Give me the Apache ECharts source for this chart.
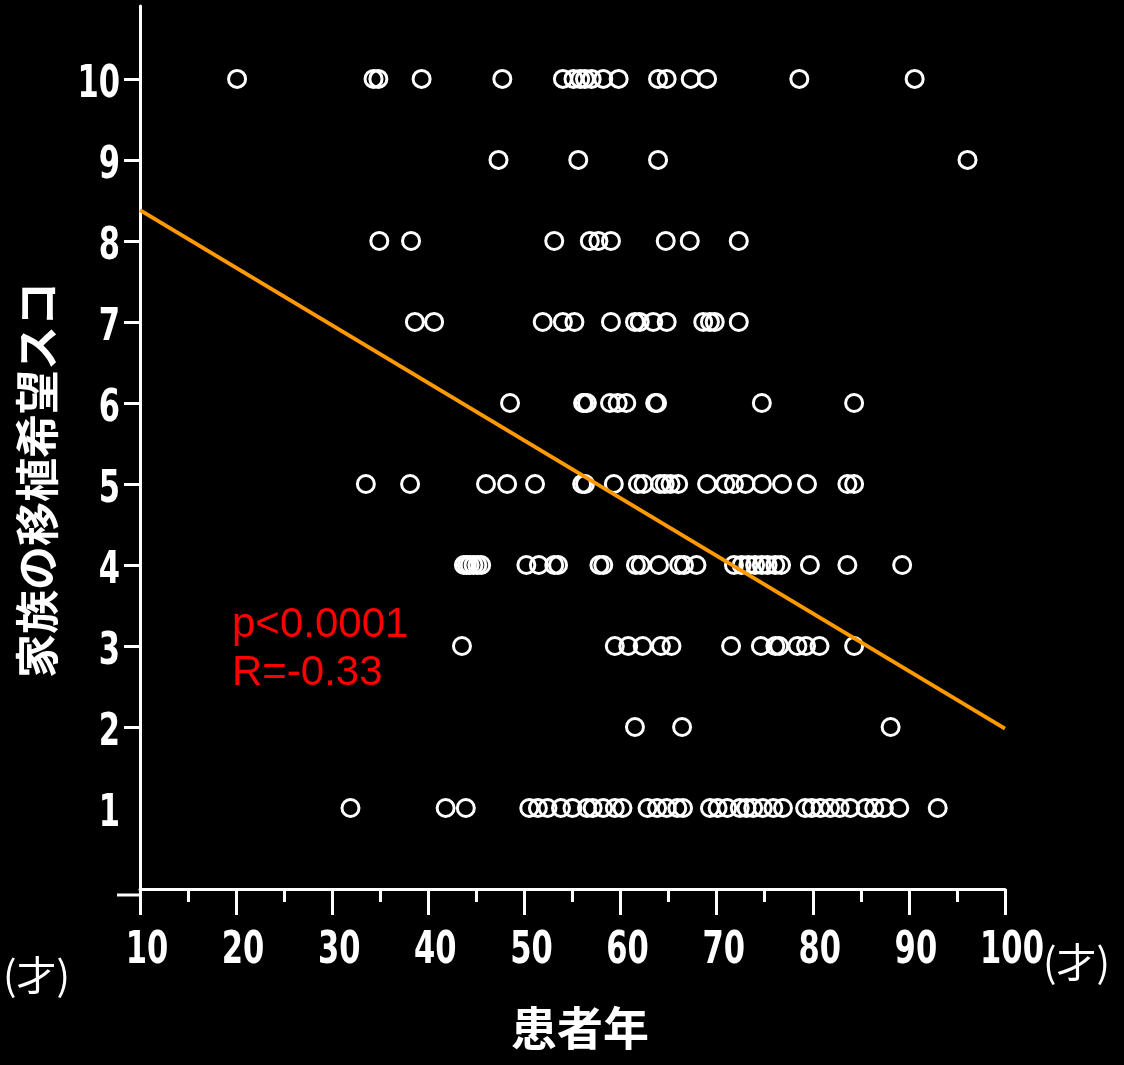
<!DOCTYPE html>
<html>
<head>
<meta charset="utf-8">
<script src="https://cdn.jsdelivr.net/npm/echarts@6/dist/echarts.min.js"></script>
<style>
  html, body { margin: 0; padding: 0; background: #000; }
  #main { width: 1124px; height: 1065px; }
</style>
</head>
<body>
<div id="main"></div>
<script>
// ages (years), one list per score row
var ages10 = [20.1, 34.3, 34.8, 39.3, 47.7, 54.0, 55.1, 55.8, 56.3, 57.0, 58.2, 59.8, 63.9, 64.8, 67.3, 69.0, 78.6, 90.6];
var ages9 = [47.3, 55.6, 63.9, 96.1];
var ages8 = [34.9, 38.2, 53.1, 56.8, 57.7, 59.0, 64.7, 67.2, 72.3];
var ages7 = [38.6, 40.6, 51.9, 54.0, 55.2, 59.0, 61.5, 62.0, 63.4, 64.8, 68.6, 69.3, 69.8, 72.3];
var ages6 = [48.5, 56.1, 56.2, 56.5, 58.9, 59.7, 60.6, 63.6, 63.8, 74.7, 84.3];
var ages5 = [33.5, 38.1, 46.0, 48.2, 51.1, 56.0, 56.3, 59.3, 61.8, 62.4, 64.1, 64.6, 65.2, 66.0, 69.0, 70.9, 71.8, 73.0, 74.7, 76.8, 79.4, 83.6, 84.3];
var ages4 = [43.7, 44.0, 44.3, 44.7, 45.1, 45.5, 50.2, 51.5, 53.1, 53.5, 57.8, 58.2, 61.6, 62.1, 64.0, 66.1, 66.6, 67.9, 71.8, 72.6, 73.3, 74.0, 74.7, 75.3, 76.1, 76.7, 79.7, 83.6, 89.3];
var ages3 = [43.5, 59.4, 60.8, 62.3, 64.2, 65.3, 71.5, 74.6, 76.1, 76.5, 78.4, 79.3, 80.7, 84.3];
var ages2 = [61.5, 66.4, 88.1];
var ages1 = [31.9, 41.8, 43.9, 50.5, 51.4, 52.4, 53.8, 55.0, 56.5, 57.1, 58.2, 59.4, 60.2, 62.8, 63.8, 64.8, 65.9, 66.5, 69.3, 70.1, 71.1, 72.4, 73.1, 73.8, 74.8, 75.9, 76.9, 79.2, 79.9, 80.8, 81.8, 82.8, 83.9, 85.5, 86.4, 87.4, 89.0, 93.0];

var scoreRows = [
  [10, ages10], [9, ages9], [8, ages8], [7, ages7], [6, ages6],
  [5, ages5], [4, ages4], [3, ages3], [2, ages2], [1, ages1]
];

// regression line end points [age, score]
var fitLine = [[10, 8.38], [100, 1.98]];

var xTicks = [10, 20, 30, 40, 50, 60, 70, 80, 90, 100];
var yLabels = [1, 2, 3, 4, 5, 6, 7, 8, 9, 10];
var yTicks = [2, 3, 4, 5, 6, 7, 8, 9, 10];

var points = [];
scoreRows.forEach(function (row) {
  row[1].forEach(function (a) { points.push([a, row[0]]); });
});

var digitFont = "bold 45px 'DejaVu Sans', sans-serif";
var cjk = "'Noto Sans CJK JP', sans-serif";
var yMin = -0.074;

var dom = document.getElementById('main');
var myChart = echarts.init(dom);

var option = {
  backgroundColor: '#000',
  animation: false,
  grid: {
    left: 140,
    right: 119,
    top: 6,
    bottom: 170
  },
  xAxis: {
    type: 'value',
    min: 10,
    max: 100,
    interval: 10,
    axisLine: { lineStyle: { color: '#fff', width: 3 } },
    axisTick: { length: 26, lineStyle: { color: '#fff', width: 3 } },
    minorTick: { show: true, splitNumber: 2, length: 13, lineStyle: { color: '#fff', width: 3 } },
    splitLine: { show: false },
    axisLabel: { show: false }
  },
  yAxis: {
    type: 'value',
    min: yMin,
    max: 10.9,
    axisLine: { show: true, lineStyle: { color: '#fff', width: 3 } },
    axisTick: { show: true, length: 16, lineStyle: { color: '#fff', width: 3 }, customValues: yTicks },
    splitLine: { show: false },
    axisLabel: { show: false }
  },
  series: [
    {
      type: 'scatter',
      data: points,
      symbol: 'circle',
      symbolSize: 17,
      itemStyle: {
        color: 'rgba(0,0,0,0)',
        borderColor: '#fff',
        borderWidth: 3,
        opacity: 1
      }
    },
    {
      type: 'line',
      data: fitLine,
      symbol: 'none',
      lineStyle: { color: '#ff9900', width: 4 }
    }
  ]
};

myChart.setOption(option, true);

// tick labels in a narrow face: placed through the axes' own scales
var axisY = myChart.convertToPixel({ yAxisIndex: 0 }, yMin);
var axisX = myChart.convertToPixel({ xAxisIndex: 0 }, 10);
var labels = [];
xTicks.forEach(function (v) {
  labels.push({
    type: 'text',
    x: myChart.convertToPixel({ xAxisIndex: 0 }, v) + 7,
    y: axisY + 56,
    scaleX: 0.68,
    style: { text: String(v), fill: '#fff', font: digitFont, textAlign: 'center', textVerticalAlign: 'middle' }
  });
});
yLabels.forEach(function (v) {
  labels.push({
    type: 'text',
    x: axisX - 20,
    y: myChart.convertToPixel({ yAxisIndex: 0 }, v) + 6,
    scaleX: 0.68,
    style: { text: String(v), fill: '#fff', font: digitFont, textAlign: 'right', textVerticalAlign: 'middle' }
  });
});

var texts = [
  // axis line stub left of the y axis
  { type: 'line', shape: { x1: 117, y1: axisY, x2: axisX, y2: axisY }, style: { stroke: '#fff', lineWidth: 3 } },
  {
    type: 'text', x: 37, y: 480, rotation: Math.PI / 2,
    style: { text: '家族の移植希望スコ', fill: '#fff', font: 'bold 44px ' + cjk, textAlign: 'center', textVerticalAlign: 'middle' }
  },
  {
    type: 'text', x: 580, y: 1028,
    style: { text: '患者年', fill: '#fff', font: 'bold 46px ' + cjk, textAlign: 'center', textVerticalAlign: 'middle' }
  },
  {
    type: 'text', x: 1043, y: 962,
    style: { text: '(才)', fill: '#fff', font: '40px ' + cjk, textAlign: 'left', textVerticalAlign: 'middle' }
  },
  {
    type: 'text', x: 70, y: 975,
    style: { text: '(才)', fill: '#fff', font: '40px ' + cjk, textAlign: 'right', textVerticalAlign: 'middle' }
  },
  {
    type: 'text', x: 232, y: 625,
    style: { text: 'p<0.0001', fill: '#ff0000', font: '42px "Liberation Sans", Arial, sans-serif', textAlign: 'left', textVerticalAlign: 'middle' }
  },
  {
    type: 'text', x: 232, y: 673,
    style: { text: 'R=-0.33', fill: '#ff0000', font: '42px "Liberation Sans", Arial, sans-serif', textAlign: 'left', textVerticalAlign: 'middle' }
  }
];

myChart.setOption({ graphic: texts.concat(labels) });
</script>
</body>
</html>
